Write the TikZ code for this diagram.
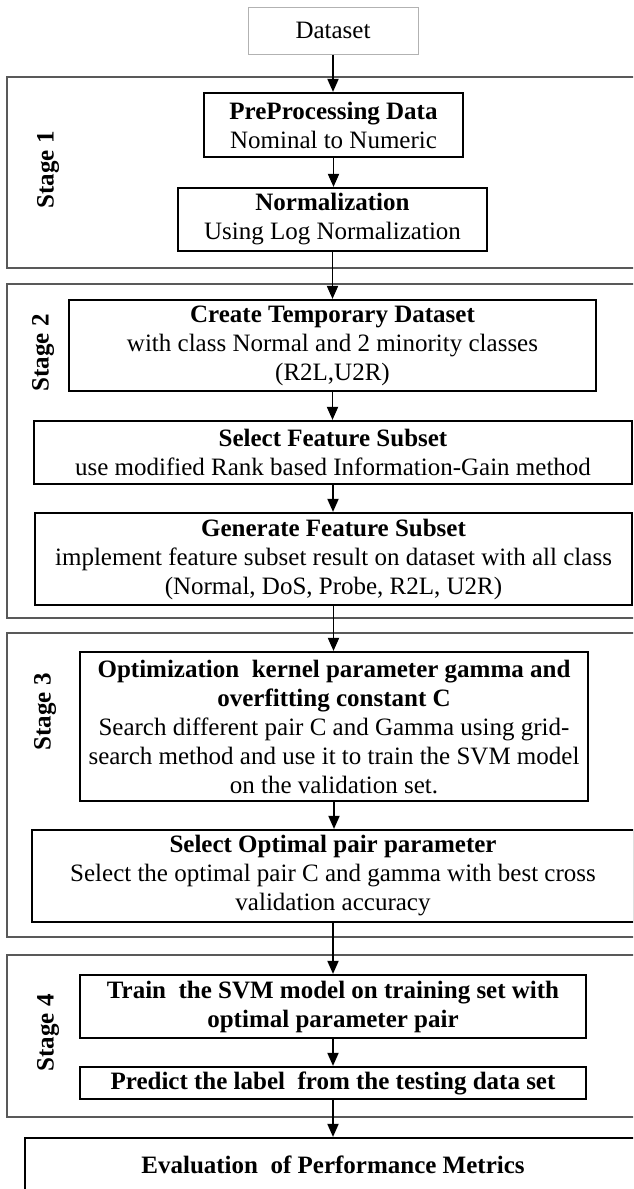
\documentclass[tikz,border=0pt]{standalone}
\usepackage{fontspec}
\setmainfont{Liberation Serif}
\usetikzlibrary{arrows.meta}
\begin{document}
\begin{tikzpicture}[x=1pt,y=-1pt,
  box/.style={draw=black,line width=2.2pt,inner sep=0pt,align=center,
    font=\fontsize{25}{29}\selectfont},
  srcbox/.style={draw=black!30,line width=1pt,inner sep=0pt,align=center,
    font=\fontsize{25}{29}\selectfont},
  stagebox/.style={draw=black!65,line width=1.5pt},
  stagelabel/.style={rotate=90,inner sep=0pt,
    font=\fontsize{25}{29}\selectfont\bfseries},
  flow/.style={line width=1.8pt,-{Triangle[width=11pt,length=13pt]}}]

\clip (0,0) rectangle (633,1189);

% stage frames (they run past the right edge)
\draw[stagebox] (7,77)   rectangle (690,268);
\draw[stagebox] (7,284)  rectangle (690,618);
\draw[stagebox] (7,633)  rectangle (690,937);
\draw[stagebox] (7,955)  rectangle (690,1117);

\node[stagelabel] (s1) at (48,170)  {Stage 1};
\node[stagelabel] (s2) at (43,353)  {Stage 2};
\node[stagelabel] (s3) at (45,712)  {Stage 3};
\node[stagelabel] (s4) at (48,1033) {Stage 4};

% process steps
\node[srcbox, minimum width=170pt, minimum height=47pt] (data) at (333,30.5) {Dataset};

\node[box, minimum width=259pt, minimum height=64pt] (pre) at (333.5,125)
  {\textbf{PreProcessing Data}\\Nominal to Numeric};
\node[box, minimum width=309pt, minimum height=63pt] (norm) at (332.5,219.5)
  {\textbf{Normalization}\\Using Log Normalization};

\node[box, minimum width=527pt, minimum height=91pt] (create) at (332.5,345.5)
  {\textbf{Create Temporary Dataset}\\with class Normal and 2 minority classes\\(R2L,U2R)};
\node[box, minimum width=598pt, minimum height=63pt] (selfeat) at (333,452.5)
  {\textbf{Select Feature Subset}\\use modified Rank based Information-Gain method};
\node[box, minimum width=597pt, minimum height=92pt] (gen) at (333.5,559)
  {\textbf{Generate Feature Subset}\\implement feature subset result on dataset with all class\\(Normal, DoS, Probe, R2L, U2R)};

\node[box, minimum width=508pt, minimum height=149pt] (opt) at (334,726.5)
  {\textbf{Optimization\ \ kernel parameter gamma and}\\\textbf{overfitting constant C}\\Search different pair C and Gamma using grid-\\search method and use it to train the SVM model\\on the validation set.};
\node[box, minimum width=602pt, minimum height=92pt] (selopt) at (333,876)
  {\textbf{Select Optimal pair parameter}\\Select the optimal pair C and gamma with best cross\\validation accuracy};

\node[box, minimum width=506pt, minimum height=63pt] (train) at (333,1006.5)
  {\textbf{Train\ \ the SVM model on training set with}\\\textbf{optimal parameter pair}};
\node[box, minimum width=506pt, minimum height=32pt] (pred) at (333,1083)
  {\textbf{Predict the label\ \ from the testing data set}};

\node[box, minimum width=616pt, minimum height=54pt] (eval) at (333,1165)
  {\textbf{Evaluation\ \ of Performance Metrics}};

% flow between steps
\draw[flow] (data.south)    -- (data.south |- pre.north);
\draw[flow] (pre.south)     -- (pre.south |- norm.north);
\draw[flow] (norm.south)    -- (norm.south |- create.north);
\draw[flow] (create.south)  -- (create.south |- selfeat.north);
\draw[flow] (selfeat.south) -- (selfeat.south |- gen.north);
\draw[flow] (gen.south)     -- (gen.south |- opt.north);
\draw[flow] (opt.south)     -- (opt.south |- selopt.north);
\draw[flow] (selopt.south)  -- (selopt.south |- train.north);
\draw[flow] (train.south)   -- (train.south |- pred.north);
\draw[flow] (pred.south)    -- (pred.south |- eval.north);
\end{tikzpicture}
\end{document}
